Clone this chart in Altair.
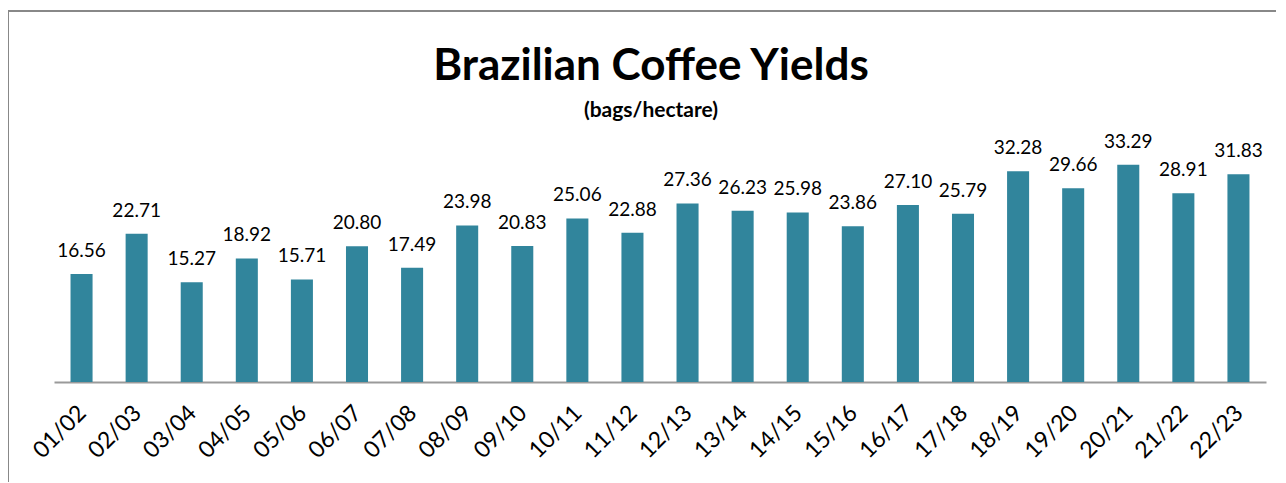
import altair as alt
import pandas as pd

seasons = ["01/02", "02/03", "03/04", "04/05", "05/06", "06/07", "07/08", "08/09",
           "09/10", "10/11", "11/12", "12/13", "13/14", "14/15", "15/16", "16/17",
           "17/18", "18/19", "19/20", "20/21", "21/22", "22/23"]
yields = [16.56, 22.71, 15.27, 18.92, 15.71, 20.80, 17.49, 23.98,
          20.83, 25.06, 22.88, 27.36, 26.23, 25.98, 23.86, 27.10,
          25.79, 32.28, 29.66, 33.29, 28.91, 31.83]
title_text = "Brazilian Coffee Yields"
subtitle_text = "(bags/hectare)"

df = pd.DataFrame({"season": seasons, "yield": yields})
df["label"] = [f"{v:.2f}" for v in yields]
tdf = pd.DataFrame({"t": [title_text]})
sdf = pd.DataFrame({"t": [subtitle_text]})

FONT = "Lato"
BAR = "#31859C"

x = alt.X("season:N", sort=seasons, title=None,
          scale=alt.Scale(paddingInner=0.6, paddingOuter=0.3),
          axis=alt.Axis(labelAngle=-45, labelAlign="right", labelBaseline="middle",
                        labelFontSize=23, labelFont=FONT, labelColor="#000000",
                        labelPadding=27, labelOffset=1, ticks=False,
                        domainColor="#9a9a9a", domainWidth=2, grid=False))
y = alt.Y("yield:Q", title=None, scale=alt.Scale(domain=[0, 35]), axis=None)

bars = alt.Chart(df).mark_bar(color=BAR).encode(x=x, y=y)
labels = alt.Chart(df).mark_text(baseline="bottom", dy=-13, fontSize=19,
                                 font=FONT, color="#000000").encode(
    x=alt.X("season:N", sort=seasons), y=y, text="label:N")

frame_top = alt.Chart(df).mark_rule(color="#888888", strokeWidth=2).encode(
    x=alt.value(-46), x2=alt.value(1240), y=alt.value(-142.5))
frame_left = alt.Chart(df).mark_rule(color="#888888", strokeWidth=2).encode(
    x=alt.value(-46), y=alt.value(-142.5), y2=alt.value(340))

title = alt.Chart(tdf).mark_text(font=FONT, fontSize=44, fontWeight="bold",
                                 color="#000000", baseline="alphabetic").encode(
    x=alt.value(597), y=alt.value(-73.5), text="t:N")
subtitle = alt.Chart(sdf).mark_text(font=FONT, fontSize=21, fontWeight="bold",
                                    color="#000000", baseline="alphabetic").encode(
    x=alt.value(597), y=alt.value(-37), text="t:N")

chart = alt.layer(frame_top, frame_left, title, subtitle, bars, labels).properties(
    width=1212, height=228.5,
    autosize=alt.AutoSizeParams(type="none"),
    padding={"left": 46, "top": 145.5, "right": 10, "bottom": 100},
).configure_view(stroke=None)

chart.save("out.html", embed_options={"renderer": "svg", "actions": False})
